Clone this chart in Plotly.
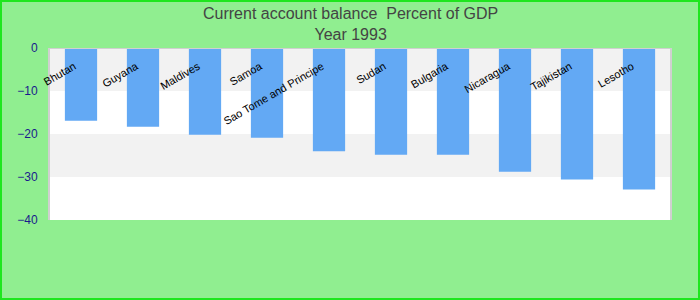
import plotly.graph_objects as go

countries = ["Bhutan", "Guyana", "Maldives", "Samoa", "Sao Tome and Principe",
             "Sudan", "Bulgaria", "Nicaragua", "Tajikistan", "Lesotho"]
values = [-16.9, -18.3, -20.2, -20.9, -24.0, -24.8, -24.8, -28.8, -30.6, -32.9]
y_ticks = [0, -10, -20, -30, -40]
bands = [(-10, 0), (-30, -20)]
title_text = "Current account balance  Percent of GDP<br>Year 1993"

fig = go.Figure()
fig.add_trace(go.Bar(x=countries, y=values, marker_color="#63a9f4",
                     marker_line_width=0, width=0.52))

for lo, hi in bands:
    fig.add_shape(type="rect", xref="paper", yref="y", x0=0, x1=1, y0=lo, y1=hi,
                  fillcolor="#f2f2f2", line_width=0, layer="below")

L, R, T, B, W, H = 50, 30, 48, 80, 700, 300
pw, ph = W - L - R, H - T - B
fig.add_shape(type="rect", xref="paper", yref="paper",
              x0=(-L + 1) / pw, x1=1 + (R - 1) / pw,
              y0=(-B + 1) / ph, y1=1 + (T - 1) / ph,
              line=dict(color="#1ee61e", width=2), fillcolor="rgba(0,0,0,0)")

fig.add_annotation(text=title_text, xref="paper", yref="paper",
                   x=0.5 - 0.5 * (L - R) / pw, y=1 + (T - 3) / ph,
                   xanchor="center", yanchor="top", showarrow=False,
                   font=dict(family="Liberation Sans, Arial", size=16, color="#444444"))

fig.update_layout(
    width=W, height=H,
    margin=dict(l=L, r=R, t=T, b=B),
    paper_bgcolor="#90ee90",
    plot_bgcolor="white",
    showlegend=False,
    bargap=0.48,
    xaxis=dict(anchor="free", position=1, side="bottom", tickangle=-30,
               tickfont=dict(family="Liberation Sans, Arial", size=11, color="black"),
               showline=True, mirror=True, linecolor="#d0d0d0", linewidth=1,
               showgrid=False, ticks="", ticklabelstandoff=7, ticklabelshift=-7),
    yaxis=dict(range=[-40, 0], tickvals=y_ticks, showgrid=False, zeroline=False,
               tickfont=dict(family="Liberation Sans, Arial", size=12, color="#1a1a8c"),
               showline=True, mirror=True, linecolor="#d0d0d0", linewidth=2,
               ticks="", ticklabelstandoff=8),
)

fig.write_html("out.html")
